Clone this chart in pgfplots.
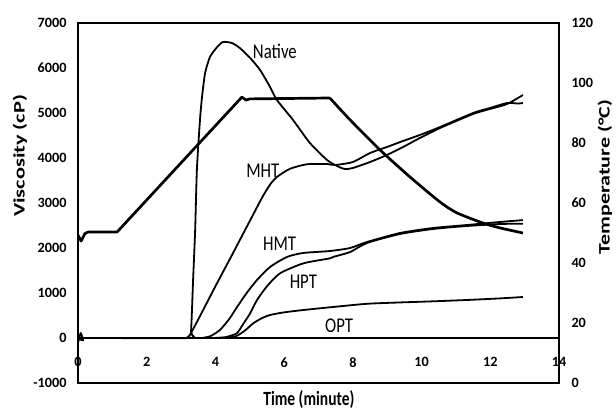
\documentclass[border=0pt]{standalone}
\usepackage{fontspec}
\setmainfont{Carlito}
\usepackage{graphicx}
\usepackage{pgfplots}
\pgfplotsset{compat=1.18}
\pgfplotsset{
  common/.style={
    at={(78pt,27pt)}, anchor=south west,
    width=481pt, height=360pt, scale only axis,
    xmin=0, xmax=14,
    major tick length=0pt,
    axis line style={line width=1.7pt},
    /pgf/number format/assume math mode=true,
    /pgf/number format/1000 sep={},
    tick label style={font=\fontsize{14.2}{16}\selectfont\bfseries},
  },
  curve/.style={black, line width=1.8pt, smooth, tension=0.4, line join=round},
}
\newcommand{\lab}[1]{\fontsize{16.8}{18}\selectfont\scalebox{1}[1.25]{#1}}
\begin{document}
\begin{tikzpicture}
\path[use as bounding box] (0,0) rectangle (616pt,410pt);
\begin{axis}[common,
  ymin=-1000, ymax=7000, ytick={-1000,0,...,7000},
  xtick={0,2,...,14},
  xticklabel style={yshift=29pt},
  yticklabel style={xshift=-8pt},
  extra y ticks={0}, extra y tick labels={},
  extra y tick style={grid=major, major grid style={black, line width=1.7pt}},
  ylabel={\scalebox{1.4}[1]{Viscosity (cP)}},
  ylabel style={at={(axis description cs:-0.1206,0.631)}, anchor=center, font=\fontsize{16}{18}\selectfont\bfseries},
  xlabel={\scalebox{1}[1.3]{Time (minute)}},
  xlabel style={at={(axis description cs:0.48,-0.047)}, anchor=center, font=\fontsize{15.5}{18}\selectfont\bfseries},
]
% Native
\addplot[curve] coordinates {
(0,-110)(0.08,110)(0.15,-50)(0.22,0)(3.22,0)(3.29,150)(3.35,1289)(3.41,2400)(3.46,3733)(3.55,4844)(3.61,5355)(3.70,5889)(3.84,6244)(4.05,6467)(4.22,6578)(4.48,6555)(4.71,6444)(5.01,6222)(5.30,5955)(5.59,5578)(5.79,5289)(6.26,4844)(6.75,4333)(7.25,3955)(7.54,3822)(7.77,3755)(8.00,3778)(8.50,3911)(8.99,4067)(9.46,4244)(9.95,4444)(10.54,4667)(11.50,4978)(11.99,5089)(12.49,5200)(12.95,5400)
};
% MHT
\addplot[curve] coordinates {
(3.12,0)(3.25,60)(3.6,560)(4.0,1150)(4.5,1870)(5.0,2600)(5.38,3150)(5.6,3420)(5.79,3578)(6.17,3760)(6.66,3860)(7.25,3867)(7.48,3844)(8.00,3911)(8.50,4111)(8.99,4244)(9.46,4378)(9.95,4511)(10.54,4689)(11.50,5000)(11.99,5111)(12.49,5222)(12.8,5210)(12.95,5222)
};
% HMT
\addplot[curve] coordinates {
(3.6,0)(3.85,40)(4.13,178)(4.4,420)(4.63,689)(4.9,990)(5.21,1289)(5.59,1578)(6.08,1800)(6.55,1889)(7.33,1933)(7.92,2000)(8.41,2133)(9.37,2333)(10.33,2444)(11.32,2511)(12.28,2578)(12.95,2620)
};
% HPT
\addplot[curve] coordinates {
(3.95,0)(4.3,20)(4.62,104)(4.8,300)(5.01,548)(5.2,830)(5.49,1140)(5.88,1437)(6.56,1659)(7.33,1770)(7.42,1800)(7.92,1911)(8.41,2111)(9.37,2311)(10.33,2422)(11.32,2489)(12.28,2533)(12.95,2540)
};
% OPT
\addplot[curve] coordinates {
(4.3,0)(4.6,40)(4.85,160)(5.10,326)(5.35,440)(5.59,511)(6.0,570)(6.56,622)(7.33,682)(8.41,760)(9.37,790)(10.33,815)(11.32,845)(12.28,880)(12.95,911)
};
\node at (axis cs:5.73,6378) {\lab{Native}};
\node at (axis cs:5.38,3722) {\lab{MHT}};
\node at (axis cs:5.87,2096) {\lab{HMT}};
\node at (axis cs:6.56,1251) {\lab{HPT}};
\node at (axis cs:7.60,271) {\lab{OPT}};
\end{axis}
\begin{axis}[common,
  ymin=0, ymax=120, ytick={0,20,...,120},
  axis y line*=right, axis x line=none,
  yticklabel style={xshift=9pt},
  ylabel={\scalebox{1.37}[1]{Temperature (\textdegree C)}},
  ylabel style={at={(axis description cs:1.0956,0.572)}, anchor=center, font=\fontsize{16}{18}\selectfont\bfseries},
]
\addplot[black, line width=2.7pt, sharp plot, line join=round] coordinates {
(0,49.3)(0.09,47.3)(0.2,49.8)(0.29,50.3)(1.135,50.3)(4.77,95.3)(4.89,94.3)(5.0,94.7)(7.33,95)
};
\addplot[black, line width=2.7pt, smooth, tension=0.4] coordinates {
(7.33,95)(7.92,87.7)(8.79,77.7)(9.66,68.7)(10.54,60.3)(11.03,56.7)(11.79,53.3)(12.28,51.7)(12.95,50)
};
\end{axis}
\end{tikzpicture}
\end{document}
